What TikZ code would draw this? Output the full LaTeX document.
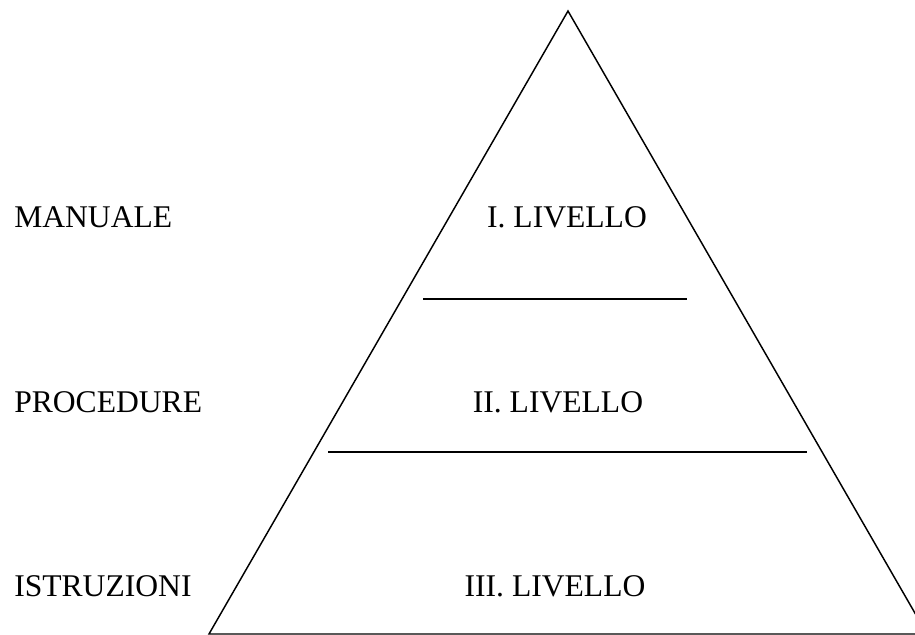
\documentclass[tikz,border=0pt]{standalone}
\usepackage{fontspec}
\setmainfont{Liberation Serif}
\begin{document}
\begin{tikzpicture}[x=0.75pt, y=-0.75pt]
    \tikzstyle{label} = [inner sep=0pt, font=\fontsize{23.7}{28}\selectfont]
    \tikzstyle{side} = [line width=1.1pt, line join=miter]
    \tikzstyle{divider} = [line width=1.6pt]

    \useasboundingbox (0,0) rectangle (915,635);
    \clip (0,0) rectangle (915,635);

    \coordinate (apex) at (568,11);
    \coordinate (baseL) at (209,634);
    \coordinate (baseR) at (927,634);
    \draw [side] (baseL) -- (apex) -- (baseR) -- cycle;

    \draw [divider] (423,299) coordinate (d1L) -- (687,299) coordinate (d1R);
    \draw [divider] (328,452) coordinate (d2L) -- (807,452) coordinate (d2R);

    \node [label, anchor=base west] (manuale) at (14,228) {MANUALE};
    \node [label, anchor=base west] (procedure) at (14,412) {PROCEDURE};
    \node [label, anchor=base west] (istruzioni) at (14,596) {ISTRUZIONI};

    \node [label, anchor=base] (liv1) at (567,228) {I. LIVELLO};
    \node [label, anchor=base] (liv2) at (558,412) {II. LIVELLO};
    \node [label, anchor=base] (liv3) at (555,596) {III. LIVELLO};
\end{tikzpicture}
\end{document}
